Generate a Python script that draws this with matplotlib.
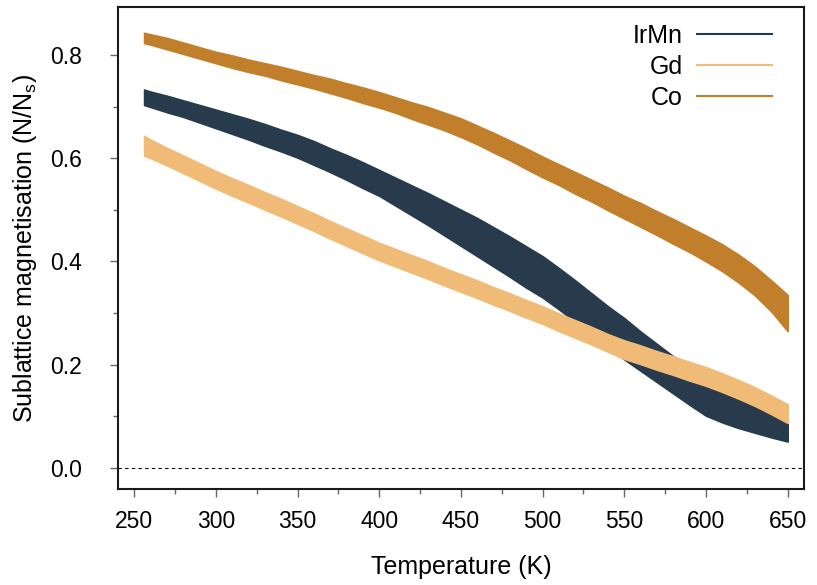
import numpy as np
import matplotlib.pyplot as plt
from matplotlib.lines import Line2D
from matplotlib.ticker import MultipleLocator

plt.rcParams['font.family'] = ['Liberation Sans', 'DejaVu Sans']

# temperature samples (K)
temps = [256, 260, 270, 280, 290, 300, 310, 320, 330, 340, 350, 360, 370, 380,
         390, 400, 410, 420, 430, 440, 450, 460, 470, 480, 490, 500, 510, 520,
         530, 540, 550, 560, 570, 580, 590, 600, 610, 620, 630, 640, 650]

# lower / upper edge of each noisy trace
irmn_lo = [.703, .699, .689, .680, .669, .658, .647, .636, .624, .613, .601, .587,
           .573, .558, .542, .527, .508, .489, .470, .450, .430, .410, .390, .370,
           .349, .330, .307, .283, .258, .233, .210, .188, .166, .144, .122, .101,
           .088, .077, .068, .059, .051]
irmn_hi = [.733, .729, .721, .712, .703, .694, .685, .676, .666, .655, .645, .633,
           .619, .606, .592, .577, .562, .547, .532, .516, .500, .484, .466, .448,
           .429, .410, .387, .363, .338, .313, .290, .264, .240, .216, .192, .169,
           .152, .137, .124, .113, .101]

gd_lo = [.605, .600, .586, .571, .556, .541, .527, .514, .500, .487, .473, .459,
         .444, .430, .416, .402, .390, .378, .366, .353, .341, .329, .316, .304,
         .291, .279, .265, .252, .239, .225, .211, .201, .190, .180, .169, .159,
         .147, .134, .120, .104, .087]
gd_hi = [.643, .636, .620, .605, .590, .575, .561, .548, .534, .521, .507, .493,
         .478, .464, .450, .436, .424, .412, .400, .387, .375, .363, .350, .338,
         .325, .313, .299, .286, .273, .259, .247, .237, .226, .216, .205, .195,
         .183, .170, .156, .140, .123]

co_lo = [.823, .820, .811, .802, .793, .784, .775, .767, .760, .751, .743, .735,
         .726, .717, .707, .698, .688, .676, .665, .654, .641, .627, .611, .596,
         .579, .563, .548, .531, .516, .499, .483, .467, .451, .434, .418, .400,
         .381, .359, .334, .303, .265]
co_hi = [.843, .840, .833, .824, .815, .806, .799, .791, .784, .777, .769, .761,
         .754, .745, .737, .728, .718, .708, .699, .688, .677, .663, .649, .634,
         .619, .603, .588, .573, .558, .543, .527, .513, .497, .482, .466, .450,
         .433, .413, .390, .363, .335]

names = ["IrMn", "Gd", "Co"]
colors = ["#283b4d", "#f0bb77", "#c17f2c"]

fig = plt.figure(figsize=(8.17, 5.85), dpi=100)
ax = fig.add_axes([0.1444, 0.1641, 0.8397, 0.8231])

series = [(irmn_lo, irmn_hi), (gd_lo, gd_hi), (co_lo, co_hi)]
for (lo, hi), c in zip(series, colors):
    ax.fill_between(temps, lo, hi, color=c, lw=1.2, edgecolor=c)

ax.axhline(0, color="black", lw=0.8, ls=(0, (3, 3)))

ax.set_xlim(240, 660)
ax.set_ylim(-0.041, 0.892)
ax.xaxis.set_major_locator(MultipleLocator(50))
ax.xaxis.set_minor_locator(MultipleLocator(25))
ax.yaxis.set_minor_locator(MultipleLocator(0.1))
ax.set_yticks(np.arange(0, 0.81, 0.2))
ax.set_yticklabels(["0.0", "0.2", "0.4", "0.6", "0.8"])

for s in ax.spines.values():
    s.set_linewidth(1.5)
    s.set_color("#1a1a1a")
ax.tick_params(which="major", length=6, width=1, color="#666666", labelsize=16.5)
ax.tick_params(which="minor", length=3.5, width=1, color="#666666")
ax.tick_params(axis="y", pad=20)
ax.tick_params(axis="x", pad=9)

ax.set_xlabel("Temperature (K)", fontsize=18, labelpad=16)
ax.set_ylabel(r"Sublattice magnetisation (N/N$_\mathregular{s}$)", fontsize=18, labelpad=8)

handles = [Line2D([], [], color=c, lw=1.5) for c in colors]
ax.legend(handles, names, loc="upper right", bbox_to_anchor=(0.953, 0.966),
          frameon=False, markerfirst=False, fontsize=18, handlelength=3.0,
          handletextpad=0.55, labelspacing=0.28, borderaxespad=0, borderpad=0)

fig.savefig("out.png", dpi=100)
